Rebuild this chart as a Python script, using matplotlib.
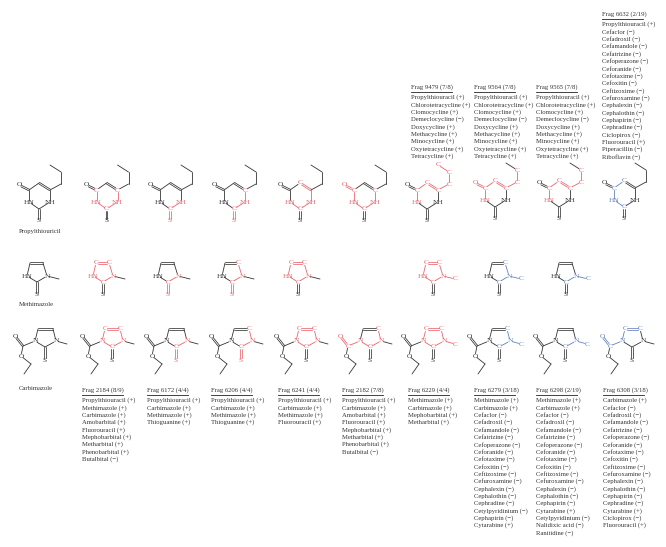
import matplotlib
matplotlib.use("Agg")
import matplotlib.pyplot as plt

RED = "#e8646f"
BLUE = "#6480bb"
DARK = "#333333"
TXT = "#333333"

# ---------- molecule templates (atom offsets relative to the S atom, px) ----------
PTU_ATOMS = {"O": (-20, -36), "C4": (-10, -31), "C5": (0, -38), "C6": (11, -31), "N1": (11, -19),
             "C2": (0, -12), "S": (0, 0), "N3": (-10, -19), "P1": (22, -37), "P2": (22, -49), "P3": (11, -56)}
PTU_LABEL = {"O": "O", "S": "S", "N1": "NH", "N3": "HN"}
PTU_BONDS = [("O", "C4", 2), ("C4", "C5", 1), ("C5", "C6", 2), ("C6", "N1", 1), ("N1", "C2", 1), ("C2", "N3", 1),
             ("N3", "C4", 1), ("C2", "S", 2), ("C6", "P1", 1), ("P1", "P2", 1), ("P2", "P3", 1)]

MET_ATOMS = {"C4": (-7, -32), "C5": (6, -32), "N3": (10, -19), "C2": (0, -13), "N1": (-10, -19), "S": (0, 0), "Me": (22, -16)}
MET_LABEL = {"S": "S", "N3": "N", "N1": "HN"}
MET_BONDS = [("C4", "C5", 2), ("C5", "N3", 1), ("N3", "C2", 1), ("C2", "N1", 1), ("N1", "C4", 1), ("C2", "S", 2), ("N3", "Me", 1)]

CAR_ATOMS = {"C4": (-7, -31), "C5": (8, -31), "N3": (11, -19), "C2": (0, -13), "N1": (-10, -19), "S": (0, 0), "Me": (22, -16),
             "CO": (-22, -14), "O2": (-30, -24), "O1": (-24, -4), "E1": (-14, 4), "E2": (-21, 14)}
CAR_LABEL = {"S": "S", "N3": "N", "N1": "N", "O2": "O", "O1": "O"}
CAR_BONDS = [("C4", "C5", 2), ("C5", "N3", 1), ("N3", "C2", 1), ("C2", "N1", 1), ("N1", "C4", 1), ("C2", "S", 2), ("N3", "Me", 1),
             ("N1", "CO", 1), ("CO", "O2", 2), ("CO", "O1", 1), ("O1", "E1", 1), ("E1", "E2", 1)]

# ---------- highlighted fragments: (S x, S y, colour, highlighted atoms, highlighted bonds) ----------
PTU_ROW = [
    (39, 221, None, [], []),
    (106.5, 221, RED, ["C4", "N3", "C2", "N1", "C6"], ["C4-N3", "N3-C2", "C2-N1", "N1-C6"]),
    (170, 221, RED, ["N1", "C2", "S"], ["N1-C2", "C2-S"]),
    (234, 221, RED, ["C6", "N1", "C2", "S"], ["C6-N1", "N1-C2", "C2-S"]),
    (300, 221, RED, ["C5", "N1", "C2", "N3"], ["C5-C6", "C6-N1", "N1-C2", "C2-N3"]),
    (364, 221, RED, ["O", "C4", "N3", "C2", "N1", "C6"], ["O-C4", "C4-N3", "N3-C2", "C2-N1", "N1-C6"]),
    (427, 221, RED, ["C4", "C5", "C6", "N3", "P1", "P2", "P3"], ["C4-N3", "C4-C5", "C5-C6", "C6-P1", "P1-P2", "P2-P3"]),
    (495, 219, RED, ["O", "C4", "C5", "C6", "N3", "P1", "P2"], ["O-C4", "C4-N3", "C4-C5", "C5-C6", "C6-P1", "P1-P2"]),
    (559, 219, RED, ["C4", "C5", "C6", "N3", "P1", "P2"], ["C4-N3", "C4-C5", "C5-C6", "C6-P1", "P1-P2"]),
    (624, 219, BLUE, ["C4", "C5", "N3", "C2"], ["C4-C5", "C4-N3", "N3-C2"]),
]
MET_ROW = [
    (37, 295, None, [], []),
    (103, 295, RED, ["C4", "C5", "N3", "C2", "N1"], ["C4-C5", "C5-N3", "N3-C2", "C2-N1", "N1-C4"]),
    (168, 295, RED, ["N3", "C2", "S"], ["N3-C2", "C2-S"]),
    (232, 295, RED, ["C5", "N3", "C2", "S"], ["C5-N3", "N3-C2", "C2-S"]),
    (298, 295, RED, ["C4", "C5", "N3", "C2", "N1"], ["C4-C5", "C5-N3", "N3-C2", "C2-N1", "N1-C4"]),
    (433, 295, RED, ["C4", "C5", "N3", "C2", "N1", "Me"], ["C4-C5", "C5-N3", "N3-C2", "C2-N1", "N1-C4", "N3-Me"]),
    (499, 295, BLUE, ["C5", "N3", "C2", "Me"], ["C5-N3", "N3-C2", "N3-Me"]),
    (566, 295, BLUE, ["N3", "C2", "Me"], ["N3-C2", "N3-Me"]),
]
CAR_ROW = [
    (45, 360, None, [], []),
    (112, 360, RED, ["C4", "C5", "N3", "C2", "N1"], ["C4-C5", "C5-N3", "N3-C2", "C2-N1", "N1-C4"]),
    (176, 360, RED, ["N3", "C2", "S"], ["N3-C2", "C2-S"]),
    (241, 360, RED, ["C5", "N3", "C2", "S"], ["C5-N3", "N3-C2", "C2-S"]),
    (306, 360, RED, ["C4", "C5", "N3", "C2", "N1"], ["C4-C5", "C5-N3", "N3-C2", "C2-N1", "N1-C4"]),
    (370, 360, RED, ["O2", "CO", "N1", "C2", "N3", "C5"], ["CO-O2", "CO-N1", "N1-C2", "C2-N3", "N3-C5"]),
    (433, 360, RED, ["C4", "C5", "N3", "C2", "N1", "Me"], ["C4-C5", "C5-N3", "N3-C2", "C2-N1", "N1-C4", "N3-Me"]),
    (499, 360, BLUE, ["C5", "N3", "C2", "Me"], ["C5-N3", "N3-C2", "N3-Me"]),
    (565, 360, BLUE, ["N3", "C2", "Me"], ["N3-C2", "N3-Me"]),
    (632, 360, BLUE, ["O2", "CO", "N1", "C4", "C5"], ["CO-O2", "CO-N1", "N1-C4", "C4-C5"]),
]

# ---------- fragment text ----------
P, M = "(+)", "(\u2212)"
CEPH = ["Cefaclor", "Cefadroxil", "Cefamandole", "Cefatrizine", "Cefoperazone", "Ceforanide", "Cefotaxime",
        "Cefoxitin", "Ceftizoxime", "Cefuroxamine", "Cephalexin", "Cephalothin"]
neg = lambda names: [f"{n} {M}" for n in names]
pos = lambda names: [f"{n} {P}" for n in names]
TET_A = pos(["Propylthiouracil", "Chlorotetracycline", "Clomocycline"]) + neg(["Demeclocycline"]) + \
        pos(["Doxycycline", "Methacycline", "Minocycline", "Oxytetracycline", "Tetracycline"])
FRAG_2184 = pos(["Propylthiouracil", "Methimazole", "Carbimazole", "Amobarbital", "Fluorouracil", "Mephobarbital",
                 "Metharbital", "Phenobarbital"]) + neg(["Butalbital"])
FRAG_6172 = pos(["Propylthiouracil", "Carbimazole", "Methimazole", "Thioguanine"])
FRAG_6241 = pos(["Propylthiouracil", "Carbimazole", "Methimazole", "Fluorouracil"])
FRAG_2182 = pos(["Propylthiouracil", "Carbimazole", "Amobarbital", "Fluorouracil", "Mephobarbital", "Metharbital",
                 "Phenobarbital"]) + neg(["Butalbital"])
FRAG_6229 = pos(["Methimazole", "Carbimazole", "Mephobarbital", "Metharbital"])
FRAG_6279 = pos(["Methimazole", "Carbimazole"]) + neg(CEPH + ["Cephradine", "Cetylpyridinium", "Cephapirin"]) + pos(["Cytarabine"])
FRAG_6298 = pos(["Methimazole", "Carbimazole"]) + neg(CEPH + ["Cephapirin"]) + pos(["Cytarabine"]) + \
            neg(["Cetylpyridinium", "Nalidixic acid", "Ranitidine"])
FRAG_6308 = pos(["Carbimazole"]) + neg(CEPH + ["Cephapirin", "Cephradine"]) + pos(["Cytarabine"]) + neg(["Ciclopirox"]) + pos(["Fluorouracil"])
FRAG_6632 = pos(["Propylthiouracil"]) + neg(CEPH + ["Cephapirin", "Cephradine", "Ciclopirox"]) + pos(["Fluorouracil"]) + \
            neg(["Piperacillin", "Riboflavin"])

BLOCKS = [
    (81.5, 390, "Frag 2184 (8/9)", FRAG_2184),
    (147, 390, "Frag 6172 (4/4)", FRAG_6172),
    (211, 390, "Frag 6206 (4/4)", FRAG_6172),
    (278, 390, "Frag 6241 (4/4)", FRAG_6241),
    (342, 390, "Frag 2182 (7/8)", FRAG_2182),
    (408, 390, "Frag 6229 (4/4)", FRAG_6229),
    (474, 390, "Frag 6279 (3/18)", FRAG_6279),
    (536, 390, "Frag 6298 (2/19)", FRAG_6298),
    (603, 390, "Frag 6308 (3/18)", FRAG_6308),
    (411, 87, "Frag 9479 (7/8)", TET_A),
    (474, 87, "Frag 9564 (7/8)", TET_A),
    (536, 87, "Frag 9565 (7/8)", TET_A),
    (602, 14, "Frag 6632 (2/19)", FRAG_6632),
]
NAMES = [(19, 231, "Propylthiouricil"), (19, 305, "Methimazole"), (19, 389, "Carbimazole")]

# ---------- drawing ----------
FS = 4.8
plt.rcParams["font.family"] = ["Liberation Serif", "DejaVu Serif"]
fig = plt.figure(figsize=(6.66, 5.47), dpi=100)
ax = fig.add_axes([0, 0, 1, 1])
ax.set_xlim(0, 666)
ax.set_ylim(547, 0)
ax.axis("off")


def draw_mol(atoms, labels, bonds, row):
    for sx, sy, col, hl_atoms, hl_bonds in row:
        hb = {frozenset(b.split("-")) for b in hl_bonds}
        lab = {a: labels.get(a) for a in atoms}
        for a in hl_atoms:
            if lab[a] is None:
                lab[a] = "C"
        for a, b, order in bonds:
            xa, ya = atoms[a]
            xb, yb = atoms[b]
            c = col if frozenset((a, b)) in hb else DARK
            dx, dy = xb - xa, yb - ya
            L = (dx * dx + dy * dy) ** 0.5
            ux, uy = dx / L, dy / L
            ga = 2.4 if lab[a] else 0
            gb = 2.4 if lab[b] else 0
            x0, y0 = xa + ux * ga, ya + uy * ga
            x1, y1 = xb - ux * gb, yb - uy * gb
            if order == 1:
                ax.plot([sx + x0, sx + x1], [sy + y0, sy + y1], color=c, lw=0.6, solid_capstyle="round")
            else:
                nx, ny = -uy * 0.8, ux * 0.8
                for s in (-1, 1):
                    ax.plot([sx + x0 + s * nx, sx + x1 + s * nx], [sy + y0 + s * ny, sy + y1 + s * ny],
                            color=c, lw=0.55, solid_capstyle="round")
        for a, text in lab.items():
            if text:
                c = col if a in hl_atoms else DARK
                x, y = atoms[a]
                ax.text(sx + x, sy + y, text, color=c, fontsize=FS + 0.5, ha="center", va="center")


draw_mol(PTU_ATOMS, PTU_LABEL, PTU_BONDS, PTU_ROW)
draw_mol(MET_ATOMS, MET_LABEL, MET_BONDS, MET_ROW)
draw_mol(CAR_ATOMS, CAR_LABEL, CAR_BONDS, CAR_ROW)

for x, y, head, rows in BLOCKS:
    ax.text(x, y, head, fontsize=FS, color=TXT, ha="left", va="center")
    ax.plot([x, x + 41], [y + 5.3, y + 5.3], color="#222222", lw=0.6)
    for i, r in enumerate(rows):
        ax.text(x, y + 10.3 + 7.37 * i, r, fontsize=FS, color=TXT, ha="left", va="center")
for x, y, t in NAMES:
    ax.text(x, y, t, fontsize=FS, color=TXT, ha="left", va="center")

fig.savefig("out.png", dpi=100)
